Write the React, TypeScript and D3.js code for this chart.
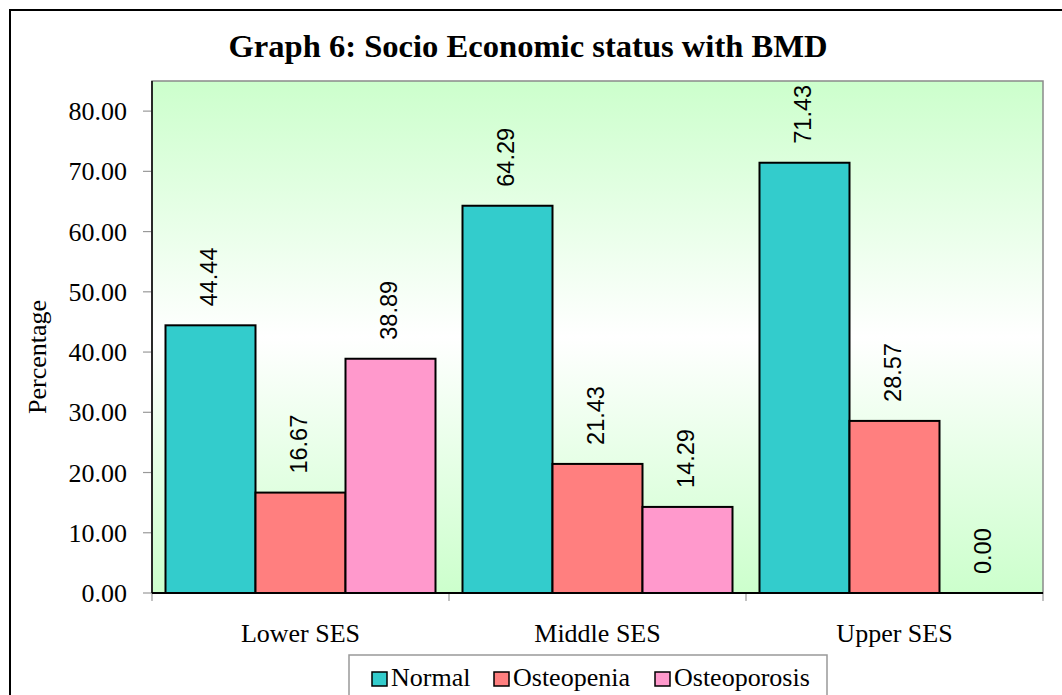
import React from "react";
import * as d3 from "d3";

const categories = ["Lower SES", "Middle SES", "Upper SES"];
const seriesNames = ["Normal", "Osteopenia", "Osteoporosis"];
const normalValues = [44.44, 64.29, 71.43];
const osteopeniaValues = [16.67, 21.43, 28.57];
const osteoporosisValues = [38.89, 14.29, 0.0];
const yTicks = [0, 10, 20, 30, 40, 50, 60, 70, 80];
const colors = ["#33CCCC", "#FF7F7F", "#FF99CC"];

const W = 1062;
const H = 695;
const plot = { left: 152, right: 1043, top: 81, bottom: 593 };
const serif = "'Liberation Serif', 'Times New Roman', serif";
const sans = "'Liberation Sans', Arial, sans-serif";

export default function App() {
  const values = [normalValues, osteopeniaValues, osteoporosisValues];
  const x0 = d3.scaleBand().domain(categories).range([plot.left, plot.right]).paddingInner(0).paddingOuter(0);
  const x1 = d3.scaleBand().domain(seriesNames).range([0, x0.bandwidth()]).paddingInner(0).paddingOuter(0.15);
  const y = d3.scaleLinear().domain([0, 85]).range([plot.bottom, plot.top]);
  const fmt = d3.format(".2f");

  const legendItems = [
    { name: seriesNames[0], sx: 372, tx: 391 },
    { name: seriesNames[1], sx: 494, tx: 513 },
    { name: seriesNames[2], sx: 655, tx: 674 },
  ];

  return (
    <svg width={W} height={H} style={{ position: "absolute", left: 0, top: 0, background: "#fff" }}>
      <defs>
        <linearGradient id="bg" x1="0" y1="0" x2="0" y2="1">
          <stop offset="0%" stopColor="#ccffcc" />
          <stop offset="50%" stopColor="#ffffff" />
          <stop offset="100%" stopColor="#ccffcc" />
        </linearGradient>
      </defs>
      <rect x={0} y={0} width={W} height={H} fill="#fff" />
      <rect x={10} y={10} width={W + 20} height={H + 20} fill="none" stroke="#000" strokeWidth={2} />
      <text x={528} y={57} textAnchor="middle" fontFamily={serif} fontWeight="bold" fontSize={32.6}>
        Graph 6: Socio Economic status with BMD
      </text>
      <rect x={plot.left} y={plot.top} width={plot.right - plot.left} height={plot.bottom - plot.top} fill="url(#bg)" stroke="#8a8a8a" strokeWidth={1.5} />
      {yTicks.map((t) => (
        <g key={t}>
          <line x1={143} x2={plot.left} y1={y(t)} y2={y(t)} stroke="#999" strokeWidth={1.2} />
          <text x={127} y={y(t)} dy="0.35em" textAnchor="end" fontFamily={serif} fontSize={26}>
            {fmt(t)}
          </text>
        </g>
      ))}
      {[...categories.map((c) => x0(c) as number), plot.right].map((xv, i) => (
        <line key={i} x1={xv} x2={xv} y1={plot.bottom} y2={plot.bottom + 8} stroke="#999" strokeWidth={1.2} />
      ))}
      {categories.map((c, ci) =>
        seriesNames.map((s, si) => {
          const v = values[si][ci];
          const bx = (x0(c) as number) + (x1(s) as number);
          const bw = x1.bandwidth();
          const top = y(v);
          return (
            <g key={c + s}>
              {v > 0 && (
                <rect x={bx} y={top} width={bw} height={y(0) - top} fill={colors[si]} stroke="#000" strokeWidth={2} />
              )}
              <text
                transform={`translate(${bx + bw / 2 + 6},${top - 19}) rotate(-90)`}
                textAnchor="start"
                fontFamily={sans}
                fontSize={23.5}
              >
                {fmt(v)}
              </text>
            </g>
          );
        })
      )}
      <line x1={plot.left} x2={plot.left} y1={plot.top} y2={plot.bottom} stroke="#000" strokeWidth={1.5} />
      <line x1={plot.left} x2={plot.right} y1={plot.bottom} y2={plot.bottom} stroke="#000" strokeWidth={2} />
      {categories.map((c) => (
        <text key={c} x={(x0(c) as number) + x0.bandwidth() / 2} y={642} textAnchor="middle" fontFamily={serif} fontSize={26}>
          {c}
        </text>
      ))}
      <text transform="translate(46,357) rotate(-90)" textAnchor="middle" fontFamily={serif} fontSize={26}>
        Percentage
      </text>
      <rect x={349} y={655} width={478} height={60} fill="#fff" stroke="#999" strokeWidth={1.5} />
      {legendItems.map((it, i) => (
        <g key={it.name}>
          <rect x={it.sx} y={672} width={15} height={14} fill={colors[i]} stroke="#000" strokeWidth={1.5} />
          <text x={it.tx} y={686} fontFamily={serif} fontSize={26}>
            {it.name}
          </text>
        </g>
      ))}
    </svg>
  );
}
